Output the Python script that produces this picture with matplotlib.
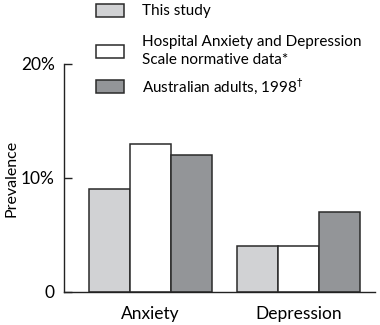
import matplotlib.pyplot as plt
import numpy as np
from matplotlib.patches import Patch

groups = ['Anxiety', 'Depression']
series = ['This study', 'Hospital Anxiety and Depression\nScale normative data*', r'Australian adults, 1998$^{\dagger}$']
this_study = [9, 4]
hads_norm = [13, 4]
aus_adults = [12, 7]
yticks = [0, 10, 20]
ytick_labels = ['0', '10%', '20%']

cols = ['#d1d2d4', '#ffffff', '#939598']
edge = '#2a2a2a'
# vertical centre of each legend row, px from top
leg_rows = [11, 51, 86]

plt.rcParams['font.family'] = ['Lato', 'DejaVu Sans']
plt.rcParams['mathtext.fontset'] = 'dejavusans'

fig = plt.figure(figsize=(3.8, 3.25), dpi=100)
ax = fig.add_axes([64/380, 1-292/325, (375-64)/380, (292-64)/325])

x = np.arange(len(groups))
w = 0.277
for i, (vals, c) in enumerate(zip([this_study, hads_norm, aus_adults], cols)):
    ax.bar(x + (i-1)*w, vals, w, color=c, edgecolor=edge, linewidth=1.1, zorder=2)

ax.set_xlim(-0.586, 1.515)
ax.set_ylim(0, 20)
ax.set_yticks(yticks)
ax.set_yticklabels(ytick_labels, fontsize=12.5)
ax.set_xticks(x)
ax.set_xticklabels(groups, fontsize=12.5)
ax.tick_params(axis='y', direction='in', length=6, width=1, pad=6.5, color='#222222')
ax.tick_params(axis='x', length=0, pad=10)
ax.set_ylabel('Prevalence', fontsize=11.5, labelpad=2)
for s in ['top', 'right']:
    ax.spines[s].set_visible(False)
for s in ['left', 'bottom']:
    ax.spines[s].set_linewidth(1)
    ax.spines[s].set_color('#222222')

# one legend per row so the rows can sit where the reference has them
for c, lab, yc in zip(cols, series, leg_rows):
    h = Patch(facecolor=c, edgecolor=edge, linewidth=1.1)
    leg = fig.legend([h], [lab], loc='center left', bbox_to_anchor=(96/380, 1-yc/325),
                     frameon=False, fontsize=11, borderpad=0, borderaxespad=0,
                     handlelength=1.83, handleheight=0.92, handletextpad=1.15)
    for t in leg.get_texts():
        t.set_linespacing(1.45)

fig.savefig('out.png', dpi=100)
